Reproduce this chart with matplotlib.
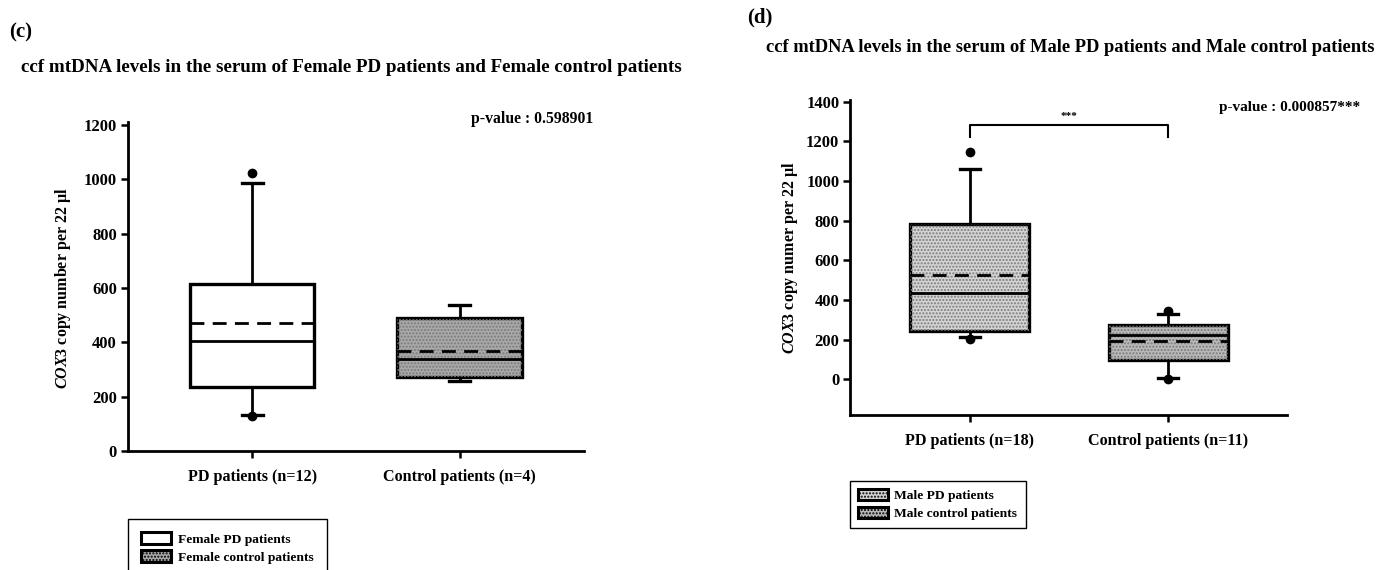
import matplotlib
matplotlib.use("Agg")
import matplotlib.pyplot as plt
from matplotlib.patches import Patch, PathPatch

plt.rcParams['font.family'] = ['Liberation Serif', 'DejaVu Serif']
plt.rcParams['font.weight'] = 'bold'
plt.rcParams['mathtext.fontset'] = 'custom'
plt.rcParams['mathtext.it'] = 'Liberation Serif:italic:bold'
plt.rcParams['mathtext.rm'] = 'Liberation Serif:bold'

# ---- data ----
groups_c = ["PD patients (n=12)", "Control patients (n=4)"]
groups_d = ["PD patients (n=18)", "Control patients (n=11)"]

# female (c): whisker low, q1, median, q3, whisker high, mean, outliers
fem_whislo = [132, 259]
fem_q1 = [237, 273]
fem_med = [405, 339]
fem_q3 = [615, 491]
fem_whishi = [987, 536]
fem_mean = [470, 368]
fem_fliers = [[1022, 129], []]

# male (d)
male_whislo = [213, 6]
male_q1 = [246, 95]
male_med = [434, 221]
male_q3 = [784, 275]
male_whishi = [1059, 329]
male_mean = [527, 193]
male_fliers = [[1147, 203], [342, 1]]

pval_c = "p-value : 0.598901"
pval_d = "p-value : 0.000857***"
bracket_top = 1284
bracket_foot = 1221

legend_c = ["Female PD patients", "Female control patients"]
legend_d = ["Male PD patients", "Male control patients"]
fills_c = ["white", "#a9a9a9"]
fills_d = ["#d4d4d4", "#b9b9b9"]
hatch_c = [False, True]
hatch_d = [True, True]


def make_stats(lo, q1, med, q3, hi, mean, fliers):
    return [dict(whislo=lo[i], q1=q1[i], med=med[i], q3=q3[i], whishi=hi[i],
                 mean=mean[i], fliers=fliers[i]) for i in range(len(lo))]


def draw_box(ax, stats, fills, hatches, labels, ylim, yticks):
    bp = ax.bxp(stats, positions=[1, 2], widths=0.6, patch_artist=True,
                showmeans=True, meanline=True, capwidths=0.1,
                boxprops=dict(edgecolor='black', linewidth=2.4),
                medianprops=dict(color='black', linewidth=2.0),
                meanprops=dict(color='black', linewidth=2.0, linestyle=(0, (5, 3))),
                whiskerprops=dict(color='black', linewidth=2.0),
                capprops=dict(color='black', linewidth=2.4),
                flierprops=dict(marker='o', markerfacecolor='black',
                                markeredgecolor='black', markersize=6))
    for box, fc, h in zip(bp['boxes'], fills, hatches):
        box.set_facecolor(fc)
        if h:
            ax.add_patch(PathPatch(box.get_path(), facecolor='none',
                                   edgecolor='#7a7a7a', hatch='.....',
                                   linewidth=0, zorder=box.get_zorder() + 0.1))
    # keep median/mean on top of the hatch overlay
    for ln in bp['medians'] + bp['means']:
        ln.set_zorder(5)
    ax.set_xlim(0.4, 2.6)
    ax.set_ylim(*ylim)
    ax.set_yticks(yticks)
    ax.set_xticks([1, 2])
    ax.set_xticklabels(labels, fontsize=11.6)
    ax.tick_params(axis='y', labelsize=12, width=1.8, length=5, pad=3)
    ax.tick_params(axis='x', width=1.8, length=5, pad=8)
    for s in ['top', 'right']:
        ax.spines[s].set_visible(False)
    for s in ['left', 'bottom']:
        ax.spines[s].set_linewidth(2.0)
    return bp


def legend_handles(fills, hatches):
    hs = []
    for fc, h in zip(fills, hatches):
        hs.append(Patch(facecolor=fc, edgecolor='black', linewidth=2.2,
                        hatch='.....' if h else None))
    return hs


W, H = 1384, 570
fig = plt.figure(figsize=(W / 100, H / 100), dpi=100)

# ---- panel (c) ----
ax_c = fig.add_axes([127.9 / W, (H - 451) / H, 456 / W, (451 - 122.2) / H])
draw_box(ax_c, make_stats(fem_whislo, fem_q1, fem_med, fem_q3, fem_whishi, fem_mean, fem_fliers),
         fills_c, hatch_c, groups_c, (0, 1210), range(0, 1201, 200))

fig.text(9 / W, 1 - 32 / H, "(c)", fontsize=15, va='center', ha='left')
fig.text(21 / W, 1 - 67 / H,
         "ccf mtDNA levels in the serum of Female PD patients and Female control patients",
         fontsize=13.7, va='center', ha='left')
fig.text(471 / W, 1 - 119 / H, pval_c, fontsize=11.3, va='center', ha='left')
fig.text(63 / W, 1 - 288 / H, r"$\mathit{COX3}$ copy number per 22 µl",
         rotation=90, fontsize=11.5, va='center', ha='center')

hs = legend_handles(fills_c, hatch_c)
fig.legend(hs, legend_c, loc='upper left', bbox_to_anchor=(128 / W, 1 - 519 / H),
           borderaxespad=0, fancybox=False, edgecolor='black', framealpha=1,
           fontsize=9.7, handlelength=2.2, handleheight=0.9, labelspacing=0.35,
           handletextpad=0.5, borderpad=1.0)

# ---- panel (d) ----
ax_d = fig.add_axes([850.4 / W, (H - 415) / H, 437 / W, (415 - 99.7) / H])
draw_box(ax_d, make_stats(male_whislo, male_q1, male_med, male_q3, male_whishi, male_mean, male_fliers),
         fills_d, hatch_d, groups_d, (-180, 1410), range(0, 1401, 200))

ax_d.plot([1, 1, 2, 2], [bracket_foot, bracket_top, bracket_top, bracket_foot],
          color='black', linewidth=1.5, clip_on=False)
ax_d.text(1.5, bracket_top + 20, "***", fontsize=8, ha='center', va='bottom')

fig.text(747 / W, 1 - 17 / H, "(d)", fontsize=15, va='center', ha='left')
fig.text(766 / W, 1 - 48 / H,
         "ccf mtDNA levels in the serum of Male PD patients and Male control patients",
         fontsize=13.3, va='center', ha='left')
fig.text(1219 / W, 1 - 108 / H, pval_d, fontsize=11, va='center', ha='left')
fig.text(790 / W, 1 - 258 / H, r"$\mathit{COX3}$ copy numer per 22 µl",
         rotation=90, fontsize=11.5, va='center', ha='center')

hs = legend_handles(fills_d, hatch_d)
fig.legend(hs, legend_d, loc='upper left', bbox_to_anchor=(850 / W, 1 - 481 / H),
           borderaxespad=0, fancybox=False, edgecolor='black', framealpha=1,
           fontsize=9.7, handlelength=2.2, handleheight=0.9, labelspacing=0.35,
           handletextpad=0.5, borderpad=0.6)

fig.savefig("out.png", dpi=100)
